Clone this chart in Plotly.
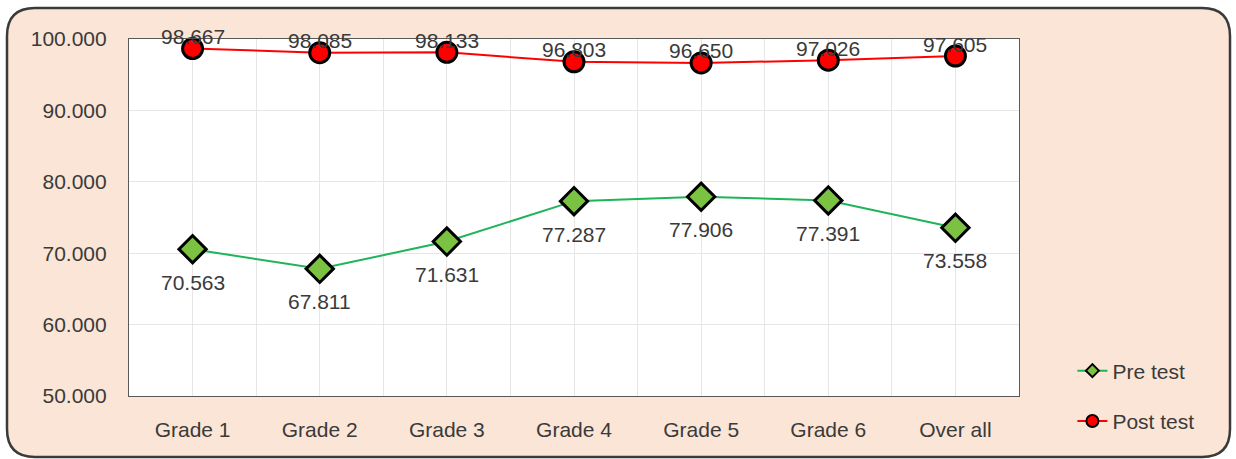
import plotly.graph_objects as go

grades = ["Grade 1", "Grade 2", "Grade 3", "Grade 4", "Grade 5", "Grade 6", "Over all"]
pre_test = [70.563, 67.811, 71.631, 77.287, 77.906, 77.391, 73.558]
post_test = [98.667, 98.085, 98.133, 96.803, 96.650, 97.026, 97.605]

W, H = 1236, 459
L, R, T, B = 129, 217, 39, 63
pw, ph = W - L - R, H - T - B

FONT = "Liberation Sans, Arial, sans-serif"
TXT = "#3A3A3A"
GREEN = "#1FB45A"
RED = "#FF0000"
FS = 21

xs = list(range(len(grades)))

fig = go.Figure()

fig.add_trace(go.Scatter(
    x=xs, y=pre_test, mode="lines+markers", showlegend=False,
    line=dict(color=GREEN, width=2),
    marker=dict(symbol="diamond", size=21, color="#7CC242", line=dict(color="black", width=3)),
    cliponaxis=False,
))
fig.add_trace(go.Scatter(
    x=xs, y=post_test, mode="lines+markers", showlegend=False,
    line=dict(color=RED, width=2),
    marker=dict(symbol="circle", size=20, color=RED, line=dict(color="black", width=3)),
    cliponaxis=False,
))

# legend-only entries with small markers
fig.add_trace(go.Scatter(
    x=[None], y=[None], mode="lines+markers", name="Pre test", legendgroup="a",
    line=dict(color=GREEN, width=2),
    marker=dict(symbol="diamond", size=10, color="#7CC242", line=dict(color="black", width=2)),
))
fig.add_trace(go.Scatter(
    x=[None], y=[None], mode="lines+markers", name="Post test", legendgroup="b",
    line=dict(color=RED, width=2),
    marker=dict(symbol="circle", size=12, color=RED, line=dict(color="black", width=2)),
))

# value labels
for x, v in zip(xs, post_test):
    fig.add_annotation(x=x, y=v, text=f"{v:.3f}", showarrow=False, yshift=12,
                       font=dict(family=FONT, size=FS, color=TXT))
for x, v in zip(xs, pre_test):
    fig.add_annotation(x=x, y=v, text=f"{v:.3f}", showarrow=False, yshift=-33,
                       font=dict(family=FONT, size=FS, color=TXT))

# rounded outer frame
def px_x(p):
    return (p - L) / pw

def px_y(p):
    return (H - B - p) / ph

x0, x1, y0, y1, r = 7, 1230, 8, 457, 28
path = (
    f"M {px_x(x0 + r)},{px_y(y0)} L {px_x(x1 - r)},{px_y(y0)} "
    f"Q {px_x(x1)},{px_y(y0)} {px_x(x1)},{px_y(y0 + r)} "
    f"L {px_x(x1)},{px_y(y1 - r)} Q {px_x(x1)},{px_y(y1)} {px_x(x1 - r)},{px_y(y1)} "
    f"L {px_x(x0 + r)},{px_y(y1)} Q {px_x(x0)},{px_y(y1)} {px_x(x0)},{px_y(y1 - r)} "
    f"L {px_x(x0)},{px_y(y0 + r)} Q {px_x(x0)},{px_y(y0)} {px_x(x0 + r)},{px_y(y0)} Z"
)
fig.add_shape(type="path", path=path, xref="paper", yref="paper", layer="below",
              fillcolor="#FBE5D6", line=dict(color="#3A3A3A", width=2.5))
fig.add_shape(type="rect", x0=0, x1=1, y0=0, y1=1, xref="paper", yref="paper",
              layer="below", fillcolor="white", line=dict(width=0))

fig.update_layout(
    width=W, height=H,
    margin=dict(l=L, r=R, t=T, b=B),
    paper_bgcolor="white", plot_bgcolor="white",
    font=dict(family=FONT, color=TXT),
    legend=dict(x=1.06, y=0.0, xanchor="left", yanchor="middle",
                bgcolor="rgba(0,0,0,0)", font=dict(family=FONT, size=FS, color=TXT),
                tracegroupgap=20),
)
fig.update_xaxes(
    range=[-0.5, len(grades) - 0.5], tickvals=xs, ticktext=grades,
    showgrid=True, gridcolor="#E6E6E6", gridwidth=1,
    minor=dict(dtick=1, tick0=0.5, showgrid=True, gridcolor="#E6E6E6"),
    showline=True, linecolor="#595959", linewidth=1.2, mirror=True,
    zeroline=False, tickfont=dict(size=FS, color=TXT), ticklabelstandoff=15,
)
fig.update_yaxes(
    range=[50, 100], dtick=10, tickformat=".3f",
    showgrid=True, gridcolor="#E6E6E6", gridwidth=1,
    showline=True, linecolor="#595959", linewidth=1.2, mirror=True,
    zeroline=False, tickfont=dict(size=FS, color=TXT), ticklabelstandoff=17,
)

fig.write_html("out.html", config={"displayModeBar": False},
               post_script="document.body.style.margin='0';")
